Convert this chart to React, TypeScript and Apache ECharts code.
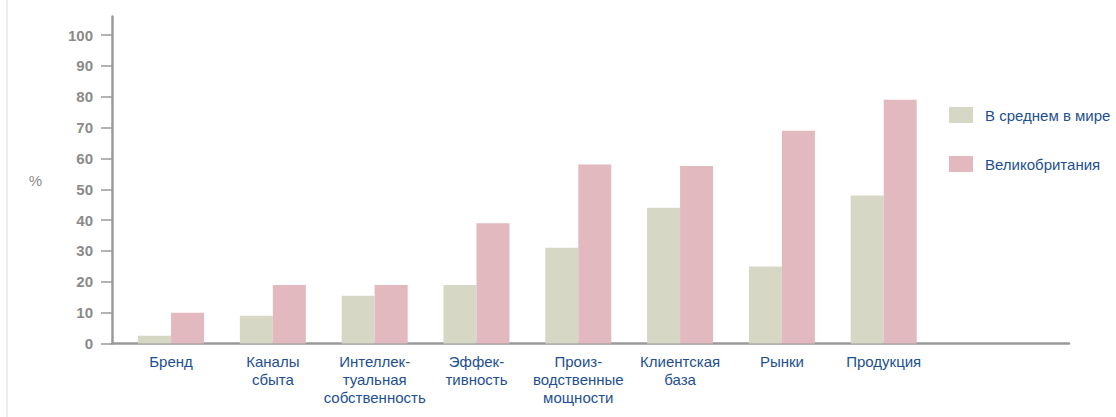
import React, { useEffect, useRef } from "react";
import * as echarts from "echarts";

const categories = [
  "Бренд",
  "Каналы\nсбыта",
  "Интеллек-\nтуальная\nсобственность",
  "Эффек-\nтивность",
  "Произ-\nводственные\nмощности",
  "Клиентская\nбаза",
  "Рынки",
  "Продукция",
];
const worldAvg = [2.5, 9, 15.5, 19, 31, 44, 25, 48];
const uk = [10, 19, 19, 39, 58, 57.5, 69, 79];
const yTicks = [0, 10, 20, 30, 40, 50, 60, 70, 80, 90, 100];
const seriesNames = ["В среднем в мире", "Великобритания"];

const BLUE = "#1d4f91";
const GRAY = "#8a8a8a";
const AXIS = "#999999";

export default function App() {
  const ref = useRef<HTMLDivElement>(null);
  useEffect(() => {
    if (!ref.current) return;
    const chart = echarts.init(ref.current, undefined, { renderer: "svg" });
    const positions = categories.map((_, i) => i);
    chart.setOption({
      animation: false,
      backgroundColor: "#ffffff",
      textStyle: { fontFamily: "Liberation Sans, Arial, sans-serif" },
      grid: { left: 112, right: 47, top: 16.5, bottom: 73.5, containLabel: false },
      legend: {
        orient: "vertical",
        left: 949,
        top: 107,
        padding: 0,
        itemWidth: 24,
        itemHeight: 16,
        itemGap: 33,
        icon: "rect",
        data: seriesNames,
        textStyle: { color: BLUE, fontSize: 15, padding: [0, 0, 0, 7] },
      },
      graphic: [
        {
          type: "rect",
          shape: { x: 6, y: 0, width: 2, height: 417 },
          style: { fill: "#eeeeee" },
          silent: true,
        },
      ],
      xAxis: {
        type: "value",
        min: -0.58,
        max: 8.82,
        axisLine: { show: true, onZero: false, lineStyle: { color: AXIS, width: 2.5 } },
        axisTick: { show: false },
        splitLine: { show: false },
        axisLabel: {
          customValues: positions,
          formatter: (v: number) => categories[Math.round(v)] ?? "",
          color: BLUE,
          fontSize: 15,
          lineHeight: 18,
          margin: 9,
          align: "center",
          verticalAlign: "top",
        },
      },
      yAxis: {
        type: "value",
        min: 0,
        max: 106,
        name: "%",
        nameLocation: "middle",
        nameRotate: 0,
        nameGap: 70,
        nameTextStyle: { color: GRAY, fontSize: 15 },
        axisLine: { show: true, onZero: false, lineStyle: { color: AXIS, width: 2.5 } },
        axisTick: {
          show: true,
          customValues: yTicks,
          length: 11,
          lineStyle: { color: AXIS, width: 1.5 },
        },
        splitLine: { show: false },
        axisLabel: {
          customValues: yTicks,
          color: GRAY,
          fontSize: 15,
          fontWeight: "bold",
          margin: 19,
        },
      },
      series: [
        {
          name: seriesNames[0],
          type: "bar",
          data: worldAvg.map((v, i) => [positions[i], v]),
          barWidth: 33,
          barGap: "0%",
          itemStyle: { color: "#d6d7c4" },
        },
        {
          name: seriesNames[1],
          type: "bar",
          data: uk.map((v, i) => [positions[i], v]),
          barWidth: 33,
          barGap: "0%",
          itemStyle: { color: "#e1b9be" },
        },
      ],
    });
    return () => chart.dispose();
  }, []);
  return (
    <div
      ref={ref}
      style={{ position: "absolute", left: 0, top: 0, width: 1116, height: 417 }}
    />
  );
}
